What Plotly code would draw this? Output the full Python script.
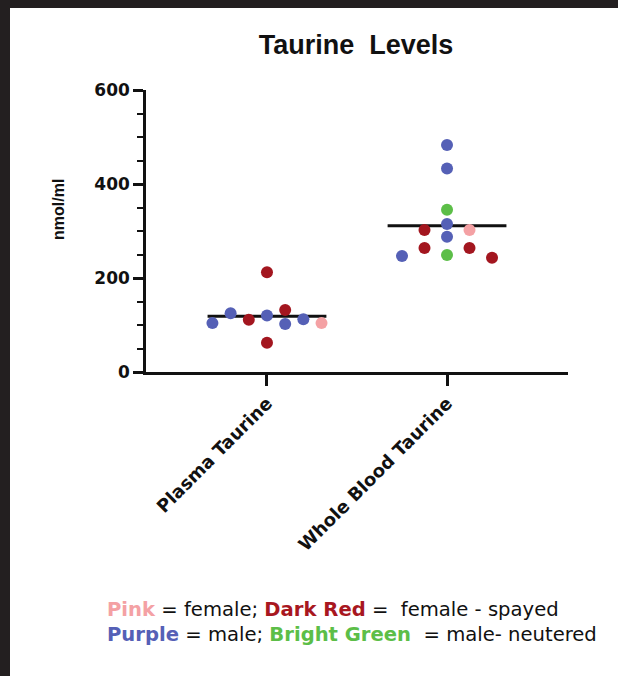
import plotly.graph_objects as go

# ---------------- data ----------------
categories = ["Plasma Taurine", "Whole Blood Taurine"]

plasma_values = [104, 125, 111, 120, 212, 62, 132, 102, 112, 104]
plasma_groups = ["male", "male", "spayed", "male", "spayed", "spayed", "spayed", "male", "male", "female"]
plasma_column = [-3, -2, -1, 0, 0, 0, 1, 1, 2, 3]

blood_values = [483, 433, 345, 315, 288, 249, 302, 264, 302, 264, 247, 243]
blood_groups = ["male", "male", "neutered", "male", "male", "neutered", "spayed", "spayed", "female", "spayed", "male", "spayed"]
blood_column = [0, 0, 0, 0, 0, 0, -1, -1, 1, 1, -2, 2]

y_ticks = [0, 200, 400, 600]

# ---------------- styles ----------------
group_colors = {
    "female": "#F4A1A4",
    "spayed": "#A3161F",
    "male": "#5560B6",
    "neutered": "#5CBE48",
}
column_step = [0.101, 0.125]
mean_half_width = 0.33

W, H = 618, 676
PL, PR, PT, PB = 146, 568, 90, 372  # plot area in pixels


def px_x(px):
    return (px - PL) / (PR - PL)


def px_y(py):
    return (PB - py) / (PB - PT)


fig = go.Figure()

series = [(plasma_values, plasma_groups, plasma_column), (blood_values, blood_groups, blood_column)]

# mean lines
for i, (vals, grps, cols) in enumerate(series):
    m = sum(vals) / len(vals)
    fig.add_trace(go.Scatter(
        x=[i - mean_half_width, i + mean_half_width], y=[m, m], mode="lines",
        line=dict(color="#111111", width=3), hoverinfo="skip", showlegend=False,
    ))

# points
for i, (vals, grps, cols) in enumerate(series):
    xs = [i + c * column_step[i] for c in cols]
    fig.add_trace(go.Scatter(
        x=xs, y=vals, mode="markers",
        marker=dict(size=12, color=[group_colors[g] for g in grps], line=dict(width=0)),
        cliponaxis=False, showlegend=False,
    ))

tick_font = dict(family="DejaVu Sans", size=17, color="#111111", weight="bold")

fig.update_xaxes(
    range=[-0.672, 1.672], tickmode="array", tickvals=list(range(len(categories))),
    ticktext=categories, tickangle=-45, tickfont=dict(family="DejaVu Sans", size=18, color="#111111", weight="bold"),
    showline=True, linecolor="#111111", linewidth=2.5, ticks="outside", ticklen=11, tickwidth=2.5,
    tickcolor="#111111", showgrid=False, zeroline=False, automargin=False,
)
fig.update_yaxes(
    range=[0, 600], tickmode="array", tickvals=y_ticks, tickfont=tick_font,
    showline=True, linecolor="#111111", linewidth=2.5, ticks="outside", ticklen=10, tickwidth=2.5,
    tickcolor="#111111", showgrid=False, zeroline=False, automargin=False,
    minor=dict(dtick=50, ticks="outside", ticklen=6, tickwidth=2, tickcolor="#111111"),
)

nb = "\u00a0"
legend_text = (
    f"<span style='color:#F4A1A4'><b>Pink</b></span> = female; "
    f"<span style='color:#A8171F'><b>Dark Red</b></span> ={nb} female - spayed<br>"
    f"<span style='color:#5560B6'><b>Purple</b></span> = male; "
    f"<span style='color:#5CBE48'><b>Bright Green</b></span>{nb} = male- neutered"
)

fig.update_layout(
    width=W, height=H,
    margin=dict(l=PL, r=W - PR, t=PT, b=H - PB, pad=0),
    paper_bgcolor="white", plot_bgcolor="white",
    showlegend=False,
    title=dict(text=f"<b>Taurine{nb} Levels</b>", x=356 / W, xanchor="center", xref="container",
               y=1 - 45 / H, yanchor="middle", yref="container",
               font=dict(family="Liberation Sans", size=27, color="#111111")),
    annotations=[
        dict(text="<b>nmol/ml</b>", xref="paper", yref="paper", x=px_x(58), y=px_y(210),
             xanchor="center", yanchor="middle", textangle=-90, showarrow=False,
             font=dict(family="Liberation Sans", size=16, color="#111111")),
        dict(text=legend_text, xref="paper", yref="paper", x=px_x(105), y=px_y(622),
             xanchor="left", yanchor="middle", align="left", showarrow=False,
             font=dict(family="DejaVu Sans", size=19.6, color="#111111")),
    ],
    shapes=[
        dict(type="rect", xref="paper", yref="paper", x0=px_x(0), x1=px_x(10), y0=px_y(H), y1=px_y(0),
             fillcolor="#231F20", line=dict(width=0), layer="above"),
        dict(type="rect", xref="paper", yref="paper", x0=px_x(0), x1=px_x(W), y0=px_y(8), y1=px_y(0),
             fillcolor="#231F20", line=dict(width=0), layer="above"),
    ],
)

fig.write_html(
    "out.html",
    config={"displayModeBar": False},
    post_script="document.body.style.margin='0';document.body.style.overflow='hidden';",
)
